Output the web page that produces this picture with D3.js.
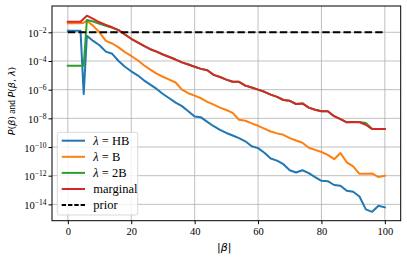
<!DOCTYPE html>
<html>
<head>
<meta charset="utf-8">
<script src="https://cdn.jsdelivr.net/npm/d3@7"></script>
<style>
  html, body { margin: 0; padding: 0; background: #fff; }
  svg { display: block; }
</style>
</head>
<body>
<div id="chart"></div>
<script>
// |beta| sample points
const beta = [0, 2, 4, 5, 6, 8, 10, 12, 14, 16, 18, 20, 22, 24, 26, 28, 30, 32, 34, 36, 38, 40,
  42, 44, 46, 48, 50, 52, 54, 56, 58, 60, 62, 64, 66, 68, 70, 72, 74, 76, 78, 80,
  82, 84, 86, 88, 90, 92, 94, 96, 98, 100];

// log10 of the probabilities
const logHB = [-1.89, -1.89, -1.89, -6.3, -2.25, -2.6, -2.9, -3.35, -3.5, -4.0, -4.4, -4.72, -5.0, -5.35, -5.65, -5.95, -6.3, -6.6, -6.9, -7.15, -7.5, -7.88,
  -7.93, -8.25, -8.55, -8.8, -9.02, -9.2, -9.38, -9.6, -9.95, -10.08, -10.4, -10.8, -10.95, -11.2, -11.62, -11.78, -11.62, -11.82, -12.1, -12.36,
  -12.38, -12.65, -12.7, -13.05, -13.12, -13.45, -14.35, -14.52, -14.1, -14.21];
const logB = [-1.37, -1.37, -1.37, -1.33, -1.2, -1.55, -2.0, -2.6, -2.78, -3.05, -3.38, -3.65, -3.95, -4.3, -4.6, -4.88, -5.1, -5.3, -5.5, -6.0, -6.25, -6.42,
  -6.6, -6.85, -7.05, -7.25, -7.42, -7.62, -8.1, -8.17, -8.35, -8.52, -8.72, -8.92, -9.05, -9.15, -9.38, -9.55, -9.7, -10.05, -10.2, -10.35,
  -10.55, -10.85, -10.42, -11.07, -11.35, -11.87, -11.87, -11.84, -12.1, -12.0];
const log2B = [-4.33, -4.33, -4.33, -4.33, -1.14, -1.25, -1.4, -1.55, -1.68, -1.85, -2.15, -2.45, -2.7, -2.95, -3.18, -3.35, -3.55, -3.72, -3.9, -4.1, -4.25, -4.4,
  -4.55, -4.65, -4.97, -5.12, -5.3, -5.45, -5.45, -5.72, -5.85, -6.0, -6.15, -6.35, -6.5, -6.72, -6.78, -7.0, -6.96, -7.25, -7.4, -7.5,
  -7.5, -7.85, -8.05, -8.28, -8.26, -8.26, -8.33, -8.75, -8.75, -8.75];
const logMarginal = [-1.26, -1.26, -1.26, -1.05, -0.84, -1.07, -1.3, -1.48, -1.65, -1.85, -2.15, -2.45, -2.7, -2.95, -3.18, -3.35, -3.55, -3.72, -3.9, -4.1, -4.25, -4.4,
  -4.55, -4.65, -4.97, -5.12, -5.3, -5.45, -5.45, -5.72, -5.85, -6.0, -6.15, -6.35, -6.5, -6.72, -6.78, -7.0, -6.96, -7.25, -7.4, -7.5,
  -7.5, -7.85, -8.05, -8.28, -8.26, -8.28, -8.45, -8.75, -8.75, -8.75];
const priorBeta = [0, 100];
const priorValue = [1e-2, 1e-2];

const xTicks = [0, 20, 40, 60, 80, 100];
const yTickExps = [-14, -12, -10, -8, -6, -4, -2];

const series = [
  { name: "HB", label: ["λ", " = HB"], values: logHB, color: "#1f77b4" },
  { name: "B", label: ["λ", " = B"], values: logB, color: "#ff7f0e" },
  { name: "2B", label: ["λ", " = 2B"], values: log2B, color: "#2ca02c" },
  { name: "marginal", label: [null, "marginal"], values: logMarginal, color: "#d62728" }
];

const serif = "'Liberation Serif', 'Times New Roman', Times, serif";
const sans = "'DejaVu Sans', sans-serif";

const width = 407, height = 260;
const plot = { left: 52, right: 400.7, top: 6, bottom: 220.7 };

const svg = d3.select("#chart").append("svg")
  .attr("width", width).attr("height", height);

const x = d3.scaleLinear().domain([-5, 105]).range([plot.left, plot.right]);
const y = d3.scaleLog().domain([Math.pow(10, -15.14), Math.pow(10, -0.165)])
  .range([plot.bottom, plot.top]);

// grid
const grid = svg.append("g").attr("stroke", "#b0b0b0").attr("stroke-width", 0.8);
grid.selectAll("line.vx").data(xTicks).join("line")
  .attr("x1", d => x(d)).attr("x2", d => x(d))
  .attr("y1", plot.top).attr("y2", plot.bottom);
grid.selectAll("line.hy").data(yTickExps).join("line")
  .attr("x1", plot.left).attr("x2", plot.right)
  .attr("y1", d => y(Math.pow(10, d))).attr("y2", d => y(Math.pow(10, d)));

// lines
const line = d3.line()
  .x((d, i) => x(beta[i]))
  .y(d => y(Math.pow(10, d)));

svg.append("g").selectAll("path").data(series).join("path")
  .attr("fill", "none")
  .attr("stroke", d => d.color)
  .attr("stroke-width", 2)
  .attr("stroke-linejoin", "round")
  .attr("stroke-linecap", "square")
  .attr("d", d => line(d.values));

svg.append("path")
  .attr("fill", "none")
  .attr("stroke", "#000")
  .attr("stroke-width", 2)
  .attr("stroke-dasharray", "7.4,3.2")
  .attr("d", d3.line().x((d, i) => x(priorBeta[i])).y(d => y(d))(priorValue));

// frame
svg.append("rect")
  .attr("x", plot.left).attr("y", plot.top)
  .attr("width", plot.right - plot.left).attr("height", plot.bottom - plot.top)
  .attr("fill", "none").attr("stroke", "#000").attr("stroke-width", 1);

// axes
const xAxis = d3.axisBottom(x).tickValues(xTicks).tickSize(3.5).tickPadding(3);
const gx = svg.append("g").attr("transform", `translate(0,${plot.bottom})`).call(xAxis);
gx.attr("font-family", null).attr("font-size", null);
gx.select(".domain").remove();
gx.selectAll("text").style("font-family", serif).style("font-size", "10.5px").attr("fill", "#000");

const yAxis = d3.axisLeft(y).tickValues(yTickExps.map(e => Math.pow(10, e))).tickSize(3.5).tickPadding(2).tickFormat("");
const gy = svg.append("g").attr("transform", `translate(${plot.left},0)`).call(yAxis);
gy.attr("font-family", null).attr("font-size", null);
gy.select(".domain").remove();
gy.selectAll(".tick").each(function (d) {
  const t = d3.select(this).append("text")
    .attr("x", -5.5).attr("dy", "0.38em")
    .attr("text-anchor", "end")
    .style("font-family", serif).style("font-size", "10.5px").attr("fill", "#000");
  t.append("tspan").text("10");
  t.append("tspan").attr("dy", "-0.5em").style("font-size", "7.5px")
    .text("\u2212" + Math.abs(Math.round(Math.log10(d))));
});

// axis labels
svg.append("text")
  .attr("x", x(50) - 2).attr("y", 251)
  .attr("text-anchor", "middle")
  .style("font-family", sans).style("font-size", "11px")
  .html('|<tspan font-style="italic">β</tspan>|');

const yl = svg.append("text")
  .attr("transform", `translate(15,101) rotate(-90)`)
  .attr("text-anchor", "middle")
  .style("font-size", "9.5px");
const ylParts = [
  ["P", sans, true], ["(", sans, false], ["β", sans, true], [")", sans, false],
  [" and ", serif, false],
  ["P", sans, true], ["(", sans, false], ["β", sans, true], [", ", sans, false], ["λ", sans, true], [")", sans, false]
];
ylParts.forEach(p => {
  yl.append("tspan").style("font-family", p[1]).style("font-style", p[2] ? "italic" : "normal").text(p[0]);
});

// legend
const legendItems = series.map(s => ({ label: s.label, color: s.color, dash: null }))
  .concat([{ label: [null, "prior"], color: "#000", dash: "4.4,1.9" }]);
const lg = svg.append("g").attr("transform", "translate(57.3,132.3)");
lg.append("rect")
  .attr("width", 80.4).attr("height", 82.7).attr("rx", 2)
  .attr("fill", "#fff").attr("fill-opacity", 0.8)
  .attr("stroke", "#d0d0d0").attr("stroke-width", 0.8);
const row = lg.selectAll("g.row").data(legendItems).join("g")
  .attr("transform", (d, i) => `translate(0,${8.4 + i * 16.1})`);
row.append("line")
  .attr("x1", 4.4).attr("x2", 27.7)
  .attr("stroke", d => d.color).attr("stroke-width", 2)
  .attr("stroke-dasharray", d => d.dash);
row.append("text")
  .attr("x", 36).attr("dy", "0.35em")
  .style("font-family", serif).style("font-size", "12.5px").attr("fill", "#000")
  .each(function (d) {
    const t = d3.select(this);
    if (d.label[0]) t.append("tspan").style("font-style", "italic").text(d.label[0]);
    t.append("tspan").text(d.label[1]);
  });
</script>
</body>
</html>
